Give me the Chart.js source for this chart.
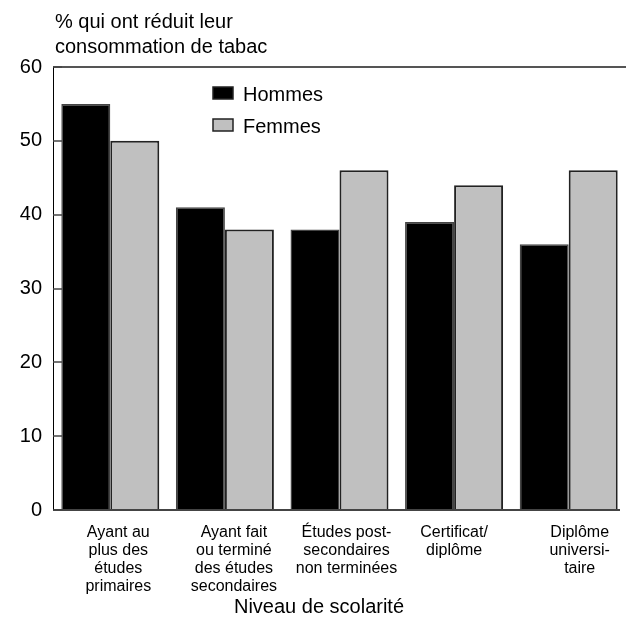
<!DOCTYPE html>
<html>
<head>
<meta charset="utf-8">
<script src="https://cdn.jsdelivr.net/npm/chart.js@4.4.1/dist/chart.umd.min.js"></script>
<style>
  html, body { margin: 0; padding: 0; background: #fff; }
  #wrap { width: 626px; height: 625px; position: relative; }
</style>
</head>
<body>
<div id="wrap"><canvas id="c" width="626" height="625"></canvas></div>
<script>
// data
var categories = [
  ['Ayant au', 'plus des', 'études', 'primaires'],
  ['Ayant fait', 'ou terminé', 'des études', 'secondaires'],
  ['Études post-', 'secondaires', 'non terminées'],
  ['Certificat/', 'diplôme'],
  ['Diplôme', 'universi-', 'taire']
];
var hommes = [55, 41, 38, 39, 36];
var femmes = [50, 38, 46, 44, 46];
var yTicks = [0, 10, 20, 30, 40, 50, 60];
var yTitleLines = ['% qui ont réduit leur', 'consommation de tabac'];
var xTitle = 'Niveau de scolarité';

// layout only: the source nudges some category labels off the bar centre
var labelNudge = [8, 9, 7, 0, 11];

var FONT = '"Liberation Sans", Arial, sans-serif';

// frame, inward ticks, category labels, axis titles and legend drawn by hand
var decorPlugin = {
  id: 'decor',
  afterDatasetsDraw: function (chart) {
    var ctx = chart.ctx;
    var a = chart.chartArea;
    var y = chart.scales.y;
    var x = chart.scales.x;
    ctx.save();
    // top line
    ctx.strokeStyle = '#555';
    ctx.lineWidth = 2;
    ctx.beginPath();
    ctx.moveTo(a.left, a.top);
    ctx.lineTo(626, a.top);
    ctx.stroke();
    // bottom axis
    ctx.strokeStyle = '#444';
    ctx.lineWidth = 2;
    ctx.beginPath();
    ctx.moveTo(a.left, a.bottom);
    ctx.lineTo(a.right - 6, a.bottom);
    ctx.stroke();
    // left axis
    ctx.strokeStyle = '#000';
    ctx.lineWidth = 1;
    ctx.beginPath();
    ctx.moveTo(a.left + 0.5, a.top);
    ctx.lineTo(a.left + 0.5, a.bottom);
    ctx.stroke();
    // inward ticks
    ctx.strokeStyle = '#444';
    ctx.lineWidth = 1.5;
    yTicks.forEach(function (v) {
      var py = Math.round(y.getPixelForValue(v));
      ctx.beginPath();
      ctx.moveTo(a.left, py);
      ctx.lineTo(a.left + 9, py);
      ctx.stroke();
    });
    // category labels
    ctx.fillStyle = '#000';
    ctx.font = '16px ' + FONT;
    ctx.textAlign = 'center';
    ctx.textBaseline = 'middle';
    categories.forEach(function (lines, i) {
      var cx = x.getPixelForTick(i) + labelNudge[i];
      lines.forEach(function (ln, j) {
        ctx.fillText(ln, cx, a.bottom + 23 + j * 18);
      });
    });
    // x title
    ctx.font = '20px ' + FONT;
    ctx.fillText(xTitle, 319, a.bottom + 97);
    // y title
    ctx.textAlign = 'left';
    ctx.fillText(yTitleLines[0], a.left + 2, a.top - 45);
    ctx.fillText(yTitleLines[1], a.left + 2, a.top - 20);
    // legend
    var items = [
      { label: 'Hommes', color: '#000' },
      { label: 'Femmes', color: '#c0c0c0' }
    ];
    items.forEach(function (it, i) {
      var bx = a.left + 160;
      var by = a.top + 20 + i * 32;
      ctx.fillStyle = it.color;
      ctx.fillRect(bx, by, 20, 12);
      ctx.strokeStyle = '#222';
      ctx.lineWidth = 1.5;
      ctx.strokeRect(bx, by, 20, 12);
      ctx.fillStyle = '#000';
      ctx.font = '20px ' + FONT;
      ctx.fillText(it.label, bx + 30, by + 8);
    });
    ctx.restore();
  }
};

new Chart(document.getElementById('c'), {
  type: 'bar',
  data: {
    labels: categories,
    datasets: [
      {
        label: 'Hommes',
        data: hommes,
        backgroundColor: '#000',
        borderColor: '#444',
        borderWidth: 1.5,
        borderSkipped: 'bottom',
        categoryPercentage: 0.855,
        barPercentage: 1
      },
      {
        label: 'Femmes',
        data: femmes,
        backgroundColor: '#c0c0c0',
        borderColor: '#222',
        borderWidth: 2,
        borderSkipped: 'bottom',
        categoryPercentage: 0.855,
        barPercentage: 1
      }
    ]
  },
  options: {
    responsive: false,
    animation: false,
    layout: { padding: { top: 67, left: 0, right: 0, bottom: 0 } },
    plugins: { legend: { display: false }, tooltip: { enabled: false } },
    scales: {
      x: {
        grid: { display: false, drawTicks: false },
        border: { display: false },
        ticks: { display: false },
        afterFit: function (s) { s.height = 115; }
      },
      y: {
        min: 0,
        max: 60,
        grid: { display: false, drawTicks: false },
        border: { display: false },
        afterBuildTicks: function (s) {
          s.ticks = yTicks.map(function (v) { return { value: v }; });
        },
        ticks: {
          color: '#000',
          font: { family: FONT, size: 20 },
          padding: 11
        },
        afterFit: function (s) { s.width = 53; }
      }
    }
  },
  plugins: [decorPlugin]
});
</script>
</body>
</html>
